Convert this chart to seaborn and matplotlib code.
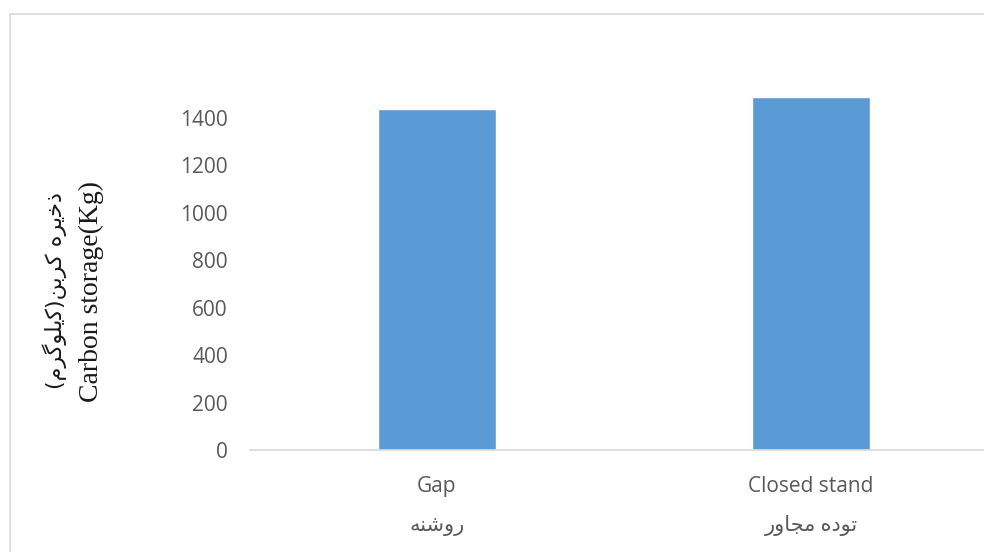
import matplotlib
matplotlib.use("Agg")
import matplotlib.pyplot as plt
import matplotlib.patches as patches
import seaborn as sns

# data
categories_en = ["Gap", "Closed stand"]
# Persian labels, written as shaped presentation forms in visual (left-to-right) order
# because matplotlib does no Arabic shaping or bidi:
#   "روشنه" and "توده مجاور"
categories_fa = ["\uFEEA\uFEE8\uFEB7\uFEED\uFEAD",
                 "\uFEAD\uFEED\uFE8E\uFEA0\uFEE3 \uFEE9\uFEA9\uFEEE\uFE97"]
carbon_kg = [1437, 1489]
y_ticks = [0, 200, 400, 600, 800, 1000, 1200, 1400]

# "ذخیره کربن(کیلوگرم)" in visual order
ylabel_fa = ("(\uFEE1\uFEAE\uFB94\uFEEE\uFEE0\uFBFE\uFB90)"
             "\uFEE6\uFE91\uFEAE\uFB90 \uFEE9\uFEAE\uFBFE\uFEA7\uFEAB")
ylabel_en = "Carbon storage(Kg)"

BAR_COLOR = "#5B9BD5"
GRID_GRAY = "#D9D9D9"
TEXT_GRAY = "#595959"

sns.set_style("white")
plt.rcParams["font.family"] = ["Open Sans", "DejaVu Sans"]

fig = plt.figure(figsize=(9.84, 5.52), dpi=100)
W, H = 984, 552

# axes placed in pixel terms; the right side runs past the image like the cropped original
x0, x1 = 250, 998
y_zero, y_top = 450, 70.6
ax = fig.add_axes([x0 / W, 1 - y_zero / H, (x1 - x0) / W, (y_zero - y_top) / H])

labels = [f"{en}\n{fa}" for en, fa in zip(categories_en, categories_fa)]
sns.barplot(x=labels, y=carbon_kg, color=BAR_COLOR, saturation=1, width=0.316, ax=ax)

ax.set_xlim(-0.5, 1.5)
ax.set_ylim(0, 1600)
ax.set_yticks(y_ticks)
ax.tick_params(axis="both", length=0, labelsize=15, labelcolor=TEXT_GRAY)
ax.tick_params(axis="y", pad=16)
ax.tick_params(axis="x", pad=19)
for lbl in ax.get_xticklabels():
    lbl.set_linespacing(2.1)

for side in ["top", "right", "left"]:
    ax.spines[side].set_visible(False)
ax.spines["bottom"].set_color(GRID_GRAY)
ax.spines["bottom"].set_linewidth(1.2)
ax.set_xlabel("")
ax.set_ylabel("")

# two-line y title: Persian line on the left, English line on the right
fig.text(55 / W, 1 - 291 / H, ylabel_fa, rotation=90, ha="center", va="center",
         fontsize=16, color="#1a1a1a", family=["DejaVu Sans"])
fig.text(91 / W, 1 - 292 / H, ylabel_en, rotation=90, ha="center", va="center",
         fontsize=20, color="#1a1a1a", family=["Liberation Serif", "DejaVu Sans"])

# chart area border (cut off on right and bottom in the reference)
fig.patches.append(patches.Rectangle((10 / W, -0.1), 1.2, 1.1 - 14 / H,
                                     transform=fig.transFigure, fill=False,
                                     edgecolor=GRID_GRAY, linewidth=1.2))

fig.savefig("out.png", dpi=100)
